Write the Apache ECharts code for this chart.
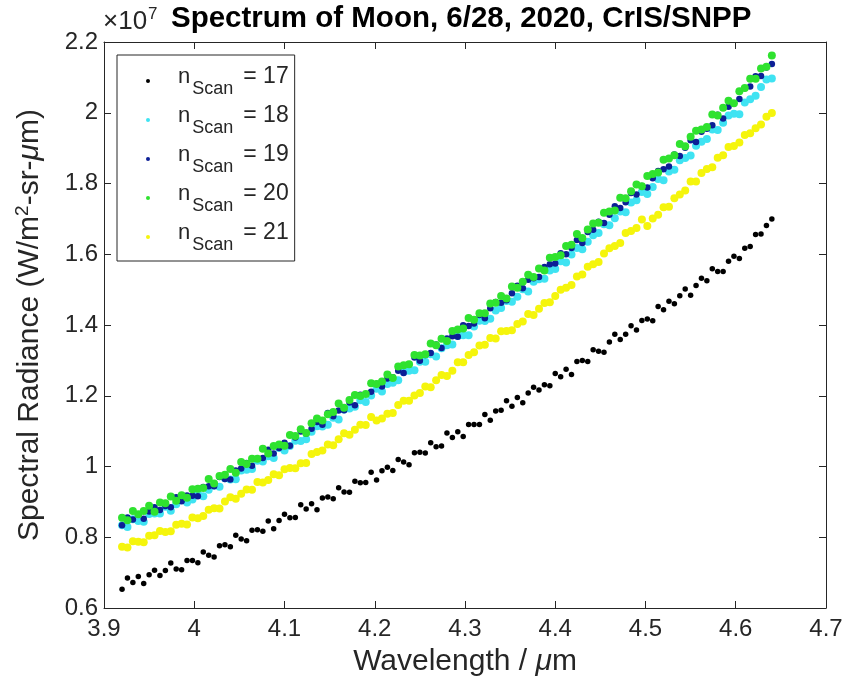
<!DOCTYPE html>
<html>
<head>
<meta charset="utf-8">
<script src="https://cdn.jsdelivr.net/npm/echarts@6/dist/echarts.min.js"></script>
<style>
  html, body { margin: 0; padding: 0; background: #fff; }
  #main { width: 852px; height: 686px; }
</style>
</head>
<body>
<div id="main"></div>
<script>
// wavelength channels, um
var wavelength = [
  3.920, 3.926, 3.932, 3.938, 3.944, 3.950, 3.956, 3.962, 3.968, 3.974,
  3.980, 3.986, 3.992, 3.998, 4.004, 4.010, 4.016, 4.022, 4.028, 4.034,
  4.040, 4.046, 4.052, 4.058, 4.064, 4.070, 4.076, 4.082, 4.088, 4.094,
  4.100, 4.106, 4.112, 4.118, 4.124, 4.130, 4.136, 4.142, 4.148, 4.154,
  4.160, 4.166, 4.172, 4.178, 4.184, 4.190, 4.196, 4.202, 4.208, 4.214,
  4.220, 4.226, 4.232, 4.238, 4.244, 4.250, 4.256, 4.262, 4.268, 4.274,
  4.280, 4.286, 4.292, 4.298, 4.304, 4.310, 4.316, 4.322, 4.328, 4.334,
  4.340, 4.346, 4.352, 4.358, 4.364, 4.370, 4.376, 4.382, 4.388, 4.394,
  4.400, 4.406, 4.412, 4.418, 4.424, 4.430, 4.436, 4.442, 4.448, 4.454,
  4.460, 4.466, 4.472, 4.478, 4.484, 4.490, 4.496, 4.502, 4.508, 4.514,
  4.520, 4.526, 4.532, 4.538, 4.544, 4.550, 4.556, 4.562, 4.568, 4.574,
  4.580, 4.586, 4.592, 4.598, 4.604, 4.610, 4.616, 4.622, 4.628, 4.634,
  4.640
]

// radiance, x 1e7 W/m2-sr-um
var scan17 = [
  0.653, 0.685, 0.672, 0.689, 0.669, 0.694, 0.707, 0.692, 0.706, 0.727,
  0.710, 0.708, 0.734, 0.734, 0.728, 0.758, 0.749, 0.744, 0.776, 0.779,
  0.773, 0.806, 0.795, 0.790, 0.820, 0.821, 0.817, 0.846, 0.824, 0.847,
  0.865, 0.855, 0.856, 0.892, 0.880, 0.895, 0.878, 0.911, 0.914, 0.909,
  0.940, 0.928, 0.927, 0.958, 0.954, 0.955, 0.984, 0.962, 0.988, 0.998,
  0.989, 1.020, 1.013, 1.005, 1.039, 1.040, 1.038, 1.067, 1.056, 1.058,
  1.095, 1.082, 1.098, 1.085, 1.119, 1.119, 1.119, 1.147, 1.131, 1.157,
  1.159, 1.186, 1.170, 1.195, 1.180, 1.208, 1.224, 1.216, 1.231, 1.228,
  1.263, 1.254, 1.275, 1.260, 1.297, 1.300, 1.297, 1.330, 1.326, 1.323,
  1.352, 1.374, 1.359, 1.374, 1.398, 1.386, 1.413, 1.417, 1.412, 1.452,
  1.443, 1.467, 1.460, 1.483, 1.502, 1.484, 1.512, 1.532, 1.525, 1.559,
  1.551, 1.551, 1.580, 1.594, 1.588, 1.617, 1.622, 1.656, 1.657, 1.681,
  1.700
]
var scan18 = [
  0.834, 0.829, 0.851, 0.846, 0.844, 0.866, 0.867, 0.867, 0.886, 0.875,
  0.893, 0.906, 0.898, 0.907, 0.923, 0.916, 0.934, 0.946, 0.943, 0.967,
  0.963, 0.964, 0.989, 0.991, 0.993, 1.016, 1.014, 1.029, 1.024, 1.052,
  1.045, 1.058, 1.073, 1.072, 1.077, 1.098, 1.114, 1.113, 1.118, 1.138,
  1.133, 1.161, 1.164, 1.169, 1.187, 1.182, 1.201, 1.220, 1.212, 1.233,
  1.237, 1.244, 1.268, 1.271, 1.272, 1.296, 1.296, 1.317, 1.311, 1.334,
  1.343, 1.345, 1.369, 1.371, 1.371, 1.396, 1.412, 1.411, 1.418, 1.441,
  1.448, 1.468, 1.466, 1.480, 1.501, 1.495, 1.522, 1.529, 1.531, 1.554,
  1.558, 1.580, 1.577, 1.599, 1.618, 1.614, 1.635, 1.654, 1.660, 1.685,
  1.682, 1.702, 1.721, 1.719, 1.746, 1.753, 1.776, 1.770, 1.790, 1.813,
  1.809, 1.834, 1.839, 1.866, 1.872, 1.879, 1.907, 1.918, 1.926, 1.953,
  1.951, 1.972, 1.992, 1.997, 1.996, 2.029, 2.038, 2.048, 2.073, 2.094,
  2.097
]
var scan19 = [
  0.834, 0.856, 0.850, 0.865, 0.852, 0.873, 0.885, 0.877, 0.888, 0.885,
  0.913, 0.902, 0.918, 0.917, 0.916, 0.942, 0.944, 0.944, 0.970, 0.965,
  0.963, 0.989, 0.994, 1.010, 1.002, 1.022, 1.024, 1.047, 1.037, 1.052,
  1.067, 1.059, 1.082, 1.099, 1.093, 1.107, 1.126, 1.118, 1.151, 1.142,
  1.158, 1.159, 1.181, 1.173, 1.203, 1.205, 1.211, 1.234, 1.226, 1.249,
  1.252, 1.271, 1.264, 1.288, 1.308, 1.299, 1.315, 1.321, 1.345, 1.335,
  1.362, 1.368, 1.367, 1.399, 1.397, 1.404, 1.428, 1.419, 1.447, 1.465,
  1.463, 1.470, 1.490, 1.511, 1.504, 1.528, 1.532, 1.536, 1.564, 1.572,
  1.574, 1.603, 1.600, 1.618, 1.640, 1.632, 1.663, 1.669, 1.692, 1.688,
  1.712, 1.736, 1.731, 1.747, 1.773, 1.769, 1.793, 1.789, 1.815, 1.835,
  1.840, 1.848, 1.882, 1.878, 1.901, 1.922, 1.917, 1.946, 1.955, 1.965,
  1.994, 1.984, 2.017, 2.027, 2.039, 2.069, 2.074, 2.103, 2.104, 2.128,
  2.138
]
var scan20 = [
  0.855, 0.848, 0.874, 0.865, 0.874, 0.889, 0.872, 0.898, 0.896, 0.915,
  0.903, 0.919, 0.912, 0.936, 0.937, 0.939, 0.965, 0.952, 0.973, 0.977,
  0.993, 0.982, 1.013, 1.007, 1.022, 1.022, 1.050, 1.037, 1.058, 1.062,
  1.059, 1.089, 1.086, 1.105, 1.095, 1.122, 1.136, 1.130, 1.148, 1.154,
  1.178, 1.166, 1.188, 1.202, 1.199, 1.205, 1.235, 1.233, 1.240, 1.260,
  1.250, 1.283, 1.286, 1.289, 1.315, 1.314, 1.317, 1.348, 1.343, 1.361,
  1.355, 1.383, 1.387, 1.390, 1.420, 1.415, 1.433, 1.433, 1.461, 1.463,
  1.482, 1.475, 1.509, 1.505, 1.522, 1.542, 1.536, 1.560, 1.554, 1.590,
  1.592, 1.597, 1.623, 1.627, 1.657, 1.646, 1.670, 1.687, 1.689, 1.717,
  1.721, 1.724, 1.760, 1.758, 1.778, 1.797, 1.792, 1.821, 1.827, 1.831,
  1.867, 1.871, 1.880, 1.912, 1.905, 1.932, 1.949, 1.953, 1.960, 1.995,
  1.992, 2.014, 2.034, 2.027, 2.061, 2.070, 2.096, 2.096, 2.125, 2.130,
  2.162
]
var scan21 = [
  0.773, 0.771, 0.789, 0.787, 0.786, 0.804, 0.806, 0.818, 0.815, 0.817,
  0.835, 0.838, 0.836, 0.856, 0.854, 0.860, 0.878, 0.882, 0.881, 0.901,
  0.913, 0.909, 0.923, 0.935, 0.934, 0.956, 0.955, 0.962, 0.978, 0.975,
  0.992, 0.996, 0.995, 1.009, 1.010, 1.035, 1.041, 1.045, 1.062, 1.060,
  1.077, 1.094, 1.090, 1.104, 1.118, 1.117, 1.140, 1.130, 1.136, 1.149,
  1.151, 1.174, 1.186, 1.186, 1.201, 1.208, 1.226, 1.224, 1.244, 1.259,
  1.256, 1.271, 1.295, 1.295, 1.315, 1.323, 1.342, 1.344, 1.363, 1.362,
  1.382, 1.383, 1.385, 1.403, 1.410, 1.431, 1.428, 1.446, 1.462, 1.464,
  1.482, 1.500, 1.505, 1.513, 1.537, 1.543, 1.565, 1.572, 1.578, 1.602,
  1.617, 1.623, 1.632, 1.660, 1.666, 1.674, 1.698, 1.680, 1.701, 1.712,
  1.733, 1.734, 1.758, 1.769, 1.780, 1.806, 1.806, 1.830, 1.841, 1.846,
  1.873, 1.880, 1.903, 1.906, 1.916, 1.937, 1.942, 1.956, 1.967, 1.989,
  1.999
]

var scanNumbers = [17, 18, 19, 20, 21]
var scanValues = [scan17, scan18, scan19, scan20, scan21]
var scanColors = ['#000000', '#3fe3f2', '#0c1f96', '#2fe22f', '#f5f50c']
var scanSizes = [5.5, 8, 6.5, 8, 8]

var font = '"Liberation Sans", Arial, Helvetica, sans-serif'
var ink = '#262626'

var chart = echarts.init(document.getElementById('main'))

var series = scanNumbers.map(function (n, k) {
  return {
    name: 'nScan = ' + n,
    type: 'scatter',
    xAxisIndex: 0,
    yAxisIndex: 0,
    symbol: 'circle',
    symbolSize: scanSizes[k],
    itemStyle: { color: scanColors[k], opacity: 1 },
    emphasis: { disabled: true },
    data: wavelength.map(function (w, i) { return [w, scanValues[k][i]] })
  }
})

function boxAxis (extra) {
  var ax = {
    type: 'value',
    axisLine: { show: true, onZero: false, lineStyle: { color: ink, width: 1 } },
    axisTick: { show: true, inside: true, length: 7, lineStyle: { color: ink } },
    splitLine: { show: false },
    axisLabel: { show: false }
  }
  return Object.assign(ax, extra)
}

chart.setOption({
  animation: false,
  backgroundColor: '#fff',
  title: [
    {
      text: 'Spectrum of Moon, 6/28, 2020, CrIS/SNPP',
      left: 171, top: 4, padding: 0,
      textStyle: { fontFamily: font, fontSize: 29.5, fontWeight: 'bold', color: '#000' }
    },
    {
      text: '×10{s|7}',
      left: 103, top: 6, padding: 0,
      textStyle: {
        fontFamily: font, fontSize: 26, fontWeight: 'normal', color: ink,
        rich: { s: { fontFamily: font, fontSize: 17, color: ink, padding: [0, 0, 15, 1] } }
      }
    }
  ],
  legend: {
    orient: 'vertical',
    left: 117, top: 55,
    padding: [10, 6, 7, 29],
    itemWidth: 50, itemHeight: 4, itemGap: 6,
    icon: 'circle',
    borderColor: ink, borderWidth: 1, borderRadius: 0,
    backgroundColor: '#fff',
    data: series.map(function (s) { return s.name }),
    formatter: function (name) {
      return '{n|n}{s|Scan}{e|= ' + name.replace('nScan = ', '') + '}'
    },
    textStyle: {
      fontFamily: font, fontSize: 22, color: ink,
      rich: {
        n: { fontFamily: font, fontSize: 22, color: ink, padding: [0, 0, 9, 0] },
        s: { fontFamily: font, fontSize: 18, color: ink, padding: [16, 0, 0, 2] },
        e: { fontFamily: font, fontSize: 23, color: ink, padding: [0, 0, 9, 10] }
      }
    }
  },
  grid: { left: 104, right: 26, top: 42, bottom: 78, containLabel: false },
  xAxis: [
    boxAxis({
      position: 'bottom', min: 3.9, max: 4.7, interval: 0.1,
      axisLabel: { show: true, fontFamily: font, fontSize: 24, color: ink, margin: 9, showMinLabel: true, showMaxLabel: true },
      name: 'Wavelength / {mu|μ}m',
      nameLocation: 'middle', nameGap: 39,
      nameTextStyle: {
        fontFamily: font, fontSize: 30, color: ink,
        rich: { mu: { fontFamily: font, fontSize: 30, fontStyle: 'italic', color: ink } }
      }
    }),
    boxAxis({ position: 'top', min: 3.9, max: 4.7, interval: 0.1 })
  ],
  yAxis: [
    boxAxis({
      position: 'left', min: 0.6, max: 2.2, interval: 0.2,
      axisLabel: { show: true, fontFamily: font, fontSize: 24, color: ink, margin: 6, showMinLabel: true, showMaxLabel: true },
      name: 'Spectral Radiance (W/m{sup|2}-sr-{mu|μ}m)',
      nameLocation: 'middle', nameGap: 57, nameRotate: 90,
      nameTextStyle: {
        fontFamily: font, fontSize: 30, color: ink,
        rich: {
          sup: { fontFamily: font, fontSize: 19, color: ink, padding: [0, 0, 15, 0] },
          mu: { fontFamily: font, fontSize: 30, fontStyle: 'italic', color: ink }
        }
      }
    }),
    boxAxis({ position: 'right', min: 0.6, max: 2.2, interval: 0.2 })
  ],
  series: series
})
</script>
</body>
</html>
